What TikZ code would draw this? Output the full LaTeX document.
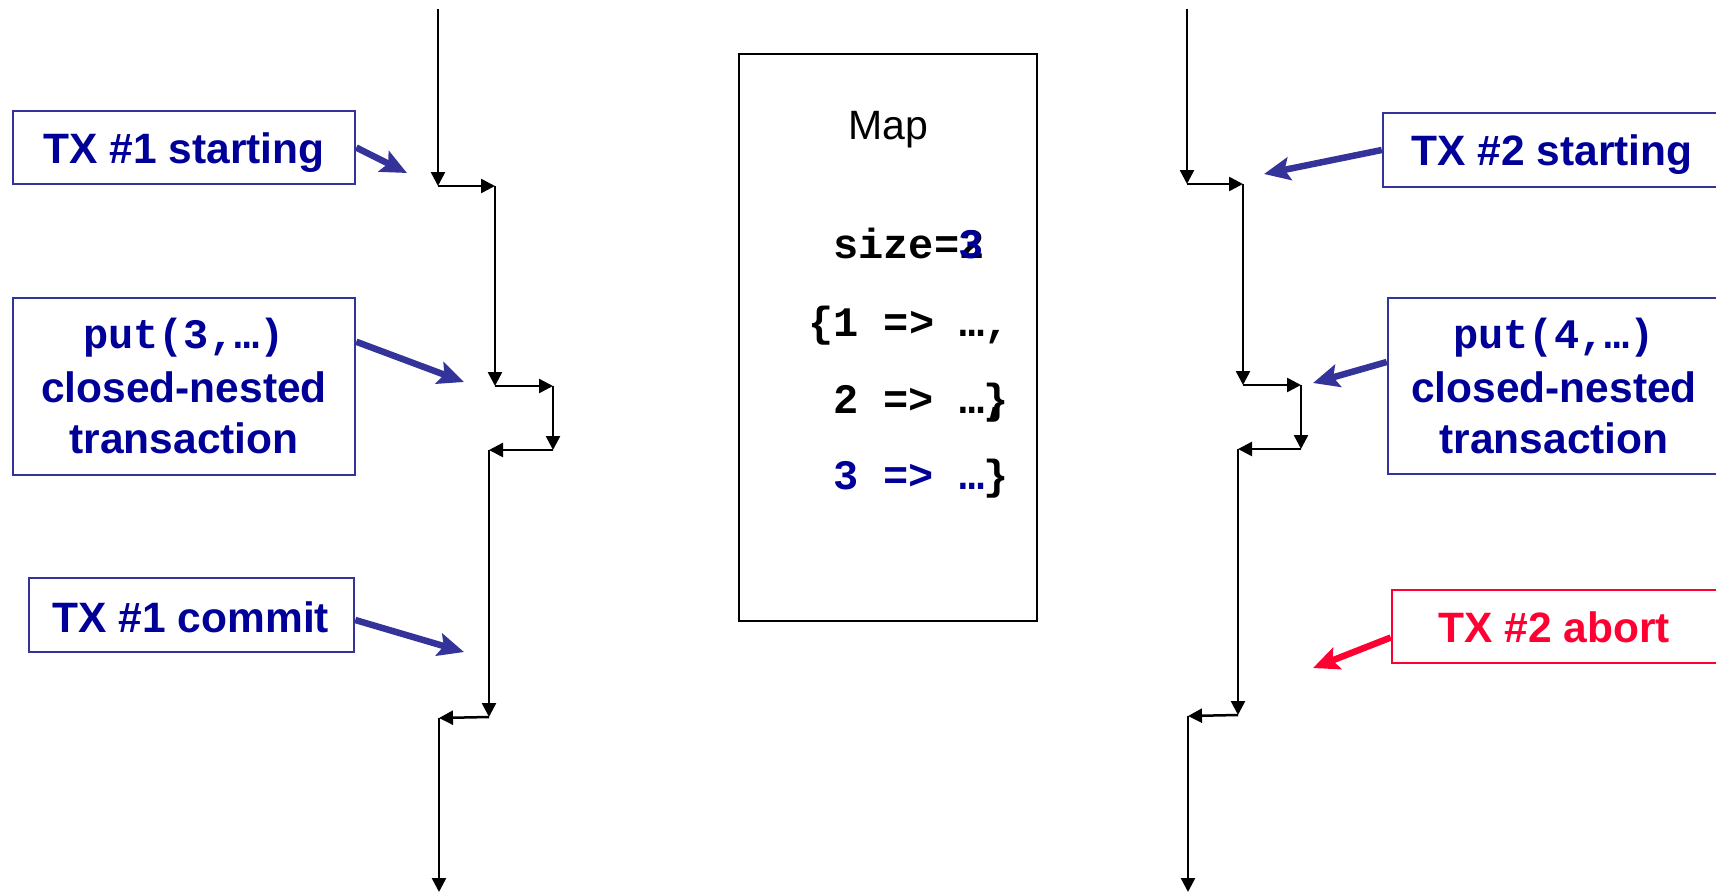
\documentclass[tikz,border=0pt]{standalone}
\usepackage{fontspec}
\setmainfont{Liberation Sans}
\setmonofont{Liberation Mono}
\usetikzlibrary{arrows.meta,calc}
\definecolor{txtblue}{RGB}{0,0,153}
\definecolor{boxblue}{RGB}{51,51,153}
\definecolor{abortred}{RGB}{255,0,51}

\tikzset{
  lbl/.style={draw=boxblue, line width=2.5pt, rectangle, inner sep=0pt},
  abortbox/.style={lbl, draw=abortred},
  txt/.style={anchor=base, inner sep=0pt, text=txtblue,
    font=\fontsize{42.5}{50}\selectfont\bfseries},
  codetxt/.style={txt, font=\fontsize{42}{50}\selectfont\ttfamily\bfseries},
  mapcode/.style={anchor=base west, inner sep=0pt,
    font=\fontsize{42}{50}\selectfont\ttfamily\bfseries},
  pointer/.style={draw=boxblue, line width=6.5pt,
    -{Stealth[length=26pt,width=23pt,inset=5pt]}},
  redpointer/.style={pointer, draw=abortred},
  flow/.style={draw=black, line width=2.5pt,
    -{Triangle[length=14pt,width=14pt]}},
}

\begin{document}
\begin{tikzpicture}[x=1pt,y=-1pt]
\useasboundingbox (0,0) rectangle (1716,894);

% ---------- transaction 1 timeline ----------
\coordinate (L0) at (438,9);
\coordinate (L1) at (438,186);
\coordinate (L2) at (495,186);
\coordinate (L3) at (495,386);
\coordinate (L4) at (553,386);
\coordinate (L5) at (553,450);
\coordinate (L6) at (489,450);
\coordinate (L7) at (489,717);
\coordinate (L8) at (439,718);
\coordinate (L9) at (439,892);
\draw[flow] (L0) -- (L1);
\draw[flow] (L1) -- (L2);
\draw[flow] (L2) -- (L3);
\draw[flow] (L3) -- (L4);
\draw[flow] (L4) -- (L5);
\draw[flow] (L5) -- (L6);
\draw[flow] (L6) -- (L7);
\draw[flow] (L7) -- (L8);
\draw[flow] (L8) -- (L9);

% ---------- transaction 2 timeline ----------
\coordinate (R0) at (1187,9);
\coordinate (R1) at (1187,184);
\coordinate (R2) at (1243,184);
\coordinate (R3) at (1243,385);
\coordinate (R4) at (1301,385);
\coordinate (R5) at (1301,449);
\coordinate (R6) at (1238,449);
\coordinate (R7) at (1238,715);
\coordinate (R8) at (1188,716);
\coordinate (R9) at (1188,892);
\draw[flow] (R0) -- (R1);
\draw[flow] (R1) -- (R2);
\draw[flow] (R2) -- (R3);
\draw[flow] (R3) -- (R4);
\draw[flow] (R4) -- (R5);
\draw[flow] (R5) -- (R6);
\draw[flow] (R6) -- (R7);
\draw[flow] (R7) -- (R8);
\draw[flow] (R8) -- (R9);

% ---------- shared map ----------
\node[draw=black, line width=2pt, minimum width=298pt, minimum height=567pt,
      inner sep=0pt] (map) at (888,337.5) {};
\node[anchor=base, inner sep=0pt, font=\fontsize{41}{48}\selectfont] (maptitle)
      at (888,139) {Map};
\node[mapcode] (sz) at (833,258) {size=2};
\node[mapcode, text=txtblue] (szn) at (958,258) {3};
\node[mapcode] (e1) at (808,336) {\{1 => …,};
\node[mapcode] (e2) at (833,413) {2 => …,};
\node[mapcode] (e2b) at (983,413) {\}};
\node[mapcode, text=txtblue] (e3) at (833,489) {3 => …};
\node[mapcode] (e3b) at (983,489) {\}};

% ---------- transaction 1 labels ----------
\node[lbl, minimum width=342pt, minimum height=73pt] (b1) at (184,147.5) {};
\node[txt] (b1t) at (184,163) {TX \#1 starting};

\node[lbl, minimum width=342pt, minimum height=177pt] (b2) at (184,386.5) {};
\node[codetxt] (b2a) at (184,348) {put(3,…)};
\node[txt] (b2b) at (184,402) {closed-nested};
\node[txt] (b2c) at (184,453) {transaction};

\node[lbl, minimum width=325pt, minimum height=74pt] (b3) at (191.5,615) {};
\node[txt] (b3t) at (191,632) {TX \#1 commit};

\coordinate (t1) at (407,173);
\coordinate (t2) at (464,382);
\coordinate (t3) at (464,652);
\draw[pointer] (b1.east) -- (t1);
\draw[pointer] ($(b2.north east)+(0,45)$) -- (t2);
\draw[pointer] ($(b3.east)+(0,5)$) -- (t3);

% ---------- transaction 2 labels ----------
\node[lbl, minimum width=338pt, minimum height=74pt] (c1) at (1552,150) {};
\node[txt] (c1t) at (1552,165) {TX \#2 starting};

\node[lbl, minimum width=333pt, minimum height=176pt] (c2) at (1554.5,386) {};
\node[codetxt] (c2a) at (1554,348) {put(4,…)};
\node[txt] (c2b) at (1554,402) {closed-nested};
\node[txt] (c2c) at (1554,453) {transaction};

\node[abortbox, minimum width=329pt, minimum height=73pt] (c3) at (1556.5,626.5) {};
\node[txt, text=abortred] (c3t) at (1554,642) {TX \#2 abort};

\coordinate (u1) at (1264,174);
\coordinate (u2) at (1313,383);
\coordinate (u3) at (1313,668);
\draw[pointer] (c1.west) -- (u1);
\draw[pointer] ($(c2.west)+(0,-24)$) -- (u2);
\draw[redpointer] ($(c3.west)+(0,11)$) -- (u3);
\end{tikzpicture}
\end{document}
